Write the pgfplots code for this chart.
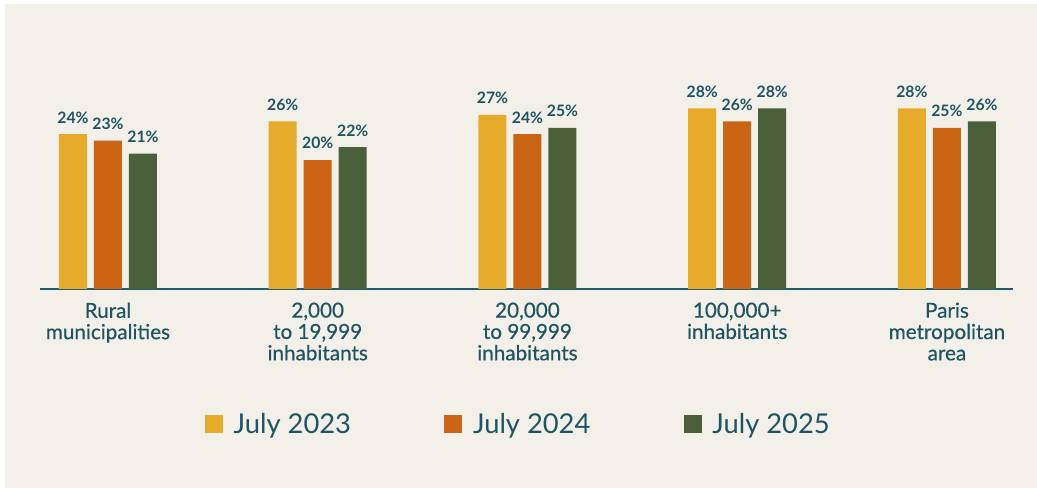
\documentclass[border=0pt]{standalone}
\usepackage{pgfplots}
\pgfplotsset{compat=1.18}
\usepackage{fontspec}
\setmainfont{Lato}
\newfontfamily\latomed[FakeBold=0.4]{Lato}
\definecolor{cy}{HTML}{E6AB2A}
\definecolor{co}{HTML}{C96515}
\definecolor{cg}{HTML}{4A603A}
\definecolor{txt}{HTML}{1F5562}
\definecolor{axc}{HTML}{245D69}
\definecolor{bgc}{HTML}{F3EFE9}
\begin{document}
\begin{tikzpicture}
\fill[white] (0pt,0pt) rectangle (777.75pt,366pt);
\fill[bgc] (3.75pt,0pt) rectangle (777.75pt,363pt);
\begin{axis}[
  at={(30pt,149.25pt)}, anchor=south west,
  width=729.75pt, height=213.75pt, scale only axis,
  xmin=-0.324, xmax=4.315, ymin=0, ymax=44.2,
  ybar=5.25pt, bar width=21pt,
  axis x line*=bottom, axis y line=none,
  x axis line style={color=axc, line width=1.9pt, -},
  xtick={0,1,2,3,4},
  xticklabels={{Rural\\municipalities},{2,000\\to 19,999\\inhabitants},{20,000\\to 99,999\\inhabitants},{100,000+\\inhabitants},{Paris\\metropolitan\\area}},
  major tick length=0pt,
  xticklabel style={font=\latomed\fontsize{15.5}{16}\selectfont, align=center, text=txt, inner sep=0pt, anchor=north, yshift=-10pt},
  nodes near coords={\pgfmathprintnumber[assume math mode=true]{\pgfplotspointmeta}\%},
  nodes near coords style={font=\bfseries\fontsize{11.8}{12}\selectfont, text=txt, inner sep=0pt, anchor=south, yshift=8pt},
  legend columns=3,
  legend style={at={(0.492,-0.4737)}, anchor=center, draw=none, fill=none, font=\fontsize{20.5}{22}\selectfont, text=txt,
    /tikz/every even column/.append style={column sep=68pt}},
  legend image code/.code={\path[#1, draw=none] (0pt,-6.75pt) rectangle (13.5pt,6.75pt); \path (19.5pt,0pt);},
]
\addplot[fill=cy, draw=none] coordinates {(0,24) (1,26) (2,27) (3,28) (4,28)};
\addplot[fill=co, draw=none] coordinates {(0,23) (1,20) (2,24) (3,26) (4,25)};
\addplot[fill=cg, draw=none] coordinates {(0,21) (1,22) (2,25) (3,28) (4,26)};
\legend{July 2023, July 2024, July 2025}
\end{axis}
\end{tikzpicture}
\end{document}
